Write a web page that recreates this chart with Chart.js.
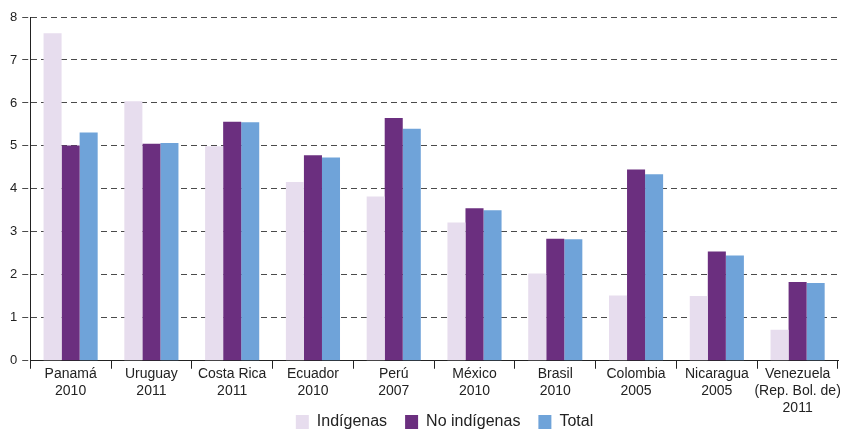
<!DOCTYPE html>
<html>
<head>
<meta charset="utf-8">
<script src="https://cdn.jsdelivr.net/npm/chart.js@4"></script>
<style>
  html, body { margin: 0; padding: 0; background: #fff; }
  #wrap { width: 851px; height: 430px; }
</style>
</head>
<body>
<div id="wrap"><canvas id="barChart" width="851" height="430"></canvas></div>
<script>
// categories (country + year)
const countries = [
  ['Panamá', '2010'],
  ['Uruguay', '2011'],
  ['Costa Rica', '2011'],
  ['Ecuador', '2010'],
  ['Perú', '2007'],
  ['México', '2010'],
  ['Brasil', '2010'],
  ['Colombia', '2005'],
  ['Nicaragua', '2005'],
  ['Venezuela', '(Rep. Bol. de)', '2011']
];

const indigenas   = [7.62, 6.04, 4.99, 4.16, 3.82, 3.22, 2.03, 1.52, 1.51, 0.72];
const noIndigenas = [5.01, 5.05, 5.56, 4.78, 5.65, 3.55, 2.84, 4.45, 2.54, 1.83];
const total       = [5.31, 5.07, 5.55, 4.73, 5.40, 3.50, 2.83, 4.34, 2.45, 1.81];

const yTicks = [0, 1, 2, 3, 4, 5, 6, 7, 8];

Chart.defaults.font.family = 'Arial, "Liberation Sans", Helvetica, sans-serif';
Chart.defaults.color = '#222';

// legend: pulled back up into the canvas and shifted right, like the original
const legendTweak = {
  id: 'legendTweak',
  afterLayout(chart) {
    const lg = chart.legend;
    const dx = 23, dy = 18;
    lg.left += dx;
    lg.right += dx;
    lg.top -= dy;
    lg.bottom -= dy;
    lg.legendHitBoxes.forEach(b => { b.left += dx; b.top -= dy; });
  }
};

const ctx = document.getElementById('barChart').getContext('2d');

const chart = new Chart(ctx, {
  type: 'bar',
  data: {
    labels: countries,
    datasets: [
      {
        label: 'Indígenas',
        data: indigenas,
        backgroundColor: '#E7DDEE'
      },
      {
        label: 'No indígenas',
        data: noIndigenas,
        backgroundColor: '#6B2F7F'
      },
      {
        label: 'Total',
        data: total,
        backgroundColor: '#6FA3D9'
      }
    ]
  },
  options: {
    responsive: false,
    animation: false,
    layout: {
      padding: { top: 17, right: 13, left: 5, bottom: -28 }
    },
    datasets: {
      bar: {
        categoryPercentage: 0.67,
        barPercentage: 1.0
      }
    },
    scales: {
      x: {
        grid: {
          drawOnChartArea: false,
          drawTicks: true,
          tickLength: 8,
          color: '#222'
        },
        border: { color: '#222', width: 1 },
        ticks: {
          padding: -3,
          maxRotation: 0,
          autoSkip: false,
          font: { size: 14, lineHeight: 1.22 },
          color: '#222'
        }
      },
      y: {
        min: 0,
        max: 8,
        afterBuildTicks(axis) {
          axis.ticks = yTicks.map(v => ({ value: v }));
        },
        grid: {
          color: '#4a4a4a',
          lineWidth: 1,
          tickLength: 8,
          tickBorderDash: [6, 4]
        },
        border: { color: '#222', width: 1, dash: [6, 4] },
        ticks: {
          padding: 5,
          font: { size: 13 },
          color: '#222'
        }
      }
    },
    plugins: {
      legend: {
        position: 'bottom',
        labels: {
          boxWidth: 13,
          boxHeight: 14,
          padding: 18,
          font: { size: 16 },
          color: '#222'
        }
      },
      title: { display: false },
      tooltip: { enabled: false }
    }
  },
  plugins: [legendTweak]
});
</script>
</body>
</html>
